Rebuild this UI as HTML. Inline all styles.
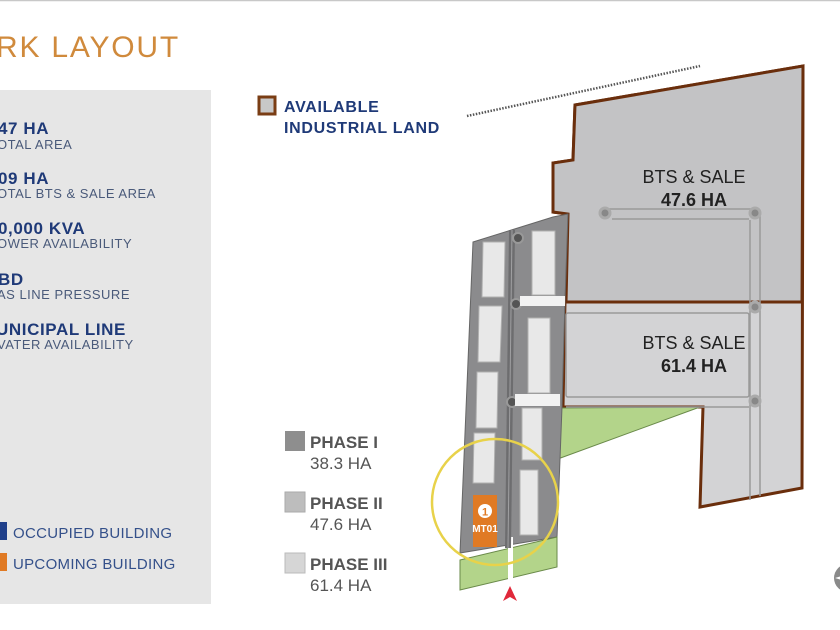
<!DOCTYPE html>
<html><head><meta charset="utf-8"><style>
html,body{margin:0;padding:0;background:#fff;}
body{width:840px;height:630px;overflow:hidden;position:relative;font-family:"Liberation Sans",sans-serif;}
svg{position:absolute;left:0;top:0;}
</style></head><body>
<svg width="840" height="630" viewBox="0 0 840 630" xmlns="http://www.w3.org/2000/svg" font-family="Liberation Sans, sans-serif">
<line x1="0" y1="0.5" x2="840" y2="0.5" stroke="#c8c8c8" stroke-width="1.5"/>
<text x="-4" y="57" font-size="30" fill="#d08a3c" letter-spacing="1.8">RK LAYOUT</text>
<rect x="0" y="90" width="211" height="514" fill="#e6e6e6"/>
<g fill="#1f3a78" font-weight="bold" font-size="17" letter-spacing="0.6">
<text x="-2" y="134">47 HA</text>
<text x="-2" y="184">09 HA</text>
<text x="-2" y="234">0,000 KVA</text>
<text x="-2" y="285">BD</text>
<text x="-4" y="335">UNICIPAL LINE</text>
</g>
<g fill="#4a5a7a" font-size="13" letter-spacing="0.5">
<text x="-3" y="149">OTAL AREA</text>
<text x="-3" y="198">OTAL BTS &amp; SALE AREA</text>
<text x="-3" y="248">OWER AVAILABILITY</text>
<text x="-3" y="299">AS LINE PRESSURE</text>
<text x="-3" y="349">VATER AVAILABILITY</text>
</g>
<rect x="0" y="522" width="7" height="18" fill="#1f3f8a"/>
<rect x="0" y="553" width="7" height="18" fill="#e07a24"/>
<text x="13" y="538" font-size="15" fill="#34508a" letter-spacing="0.3">OCCUPIED BUILDING</text>
<text x="13" y="569" font-size="15" fill="#34508a" letter-spacing="0.3">UPCOMING BUILDING</text>
<rect x="259" y="97" width="16" height="17" fill="#c8c8c8" stroke="#7a3d14" stroke-width="3"/>
<text x="284" y="112" font-size="16" font-weight="bold" fill="#1f3a78" letter-spacing="0.7">AVAILABLE</text>
<text x="284" y="133" font-size="16" font-weight="bold" fill="#1f3a78" letter-spacing="0.7">INDUSTRIAL LAND</text>
<line x1="467" y1="116" x2="700" y2="66" stroke="#555" stroke-width="2.5" stroke-dasharray="1.5 1.5"/>
<rect x="285" y="431" width="20" height="20" fill="#8e8e8e"/>
<rect x="285" y="492" width="20" height="20" fill="#bdbdbd" stroke="#aaa"/>
<rect x="285" y="553" width="20" height="20" fill="#d6d6d6" stroke="#bbb"/>
<g font-size="17" fill="#555">
<text x="310" y="448" font-weight="bold">PHASE I</text><text x="310" y="469">38.3 HA</text>
<text x="310" y="509" font-weight="bold">PHASE II</text><text x="310" y="530">47.6 HA</text>
<text x="310" y="570" font-weight="bold">PHASE III</text><text x="310" y="591">61.4 HA</text>
</g>
<polygon points="575,105 803,66 802,488 700,507 703,407 563,407 565,302 568,214 553,212 553,163 573,160" fill="#d3d3d5" stroke="#6a2e0c" stroke-width="3"/>
<polygon points="575,105 803,66 802,302 566,302 568,214 553,212 553,163 573,160" fill="#c3c3c5" stroke="#6a2e0c" stroke-width="3"/>
<polygon points="555,408 700,407 555,460" fill="#b3d48a" stroke="#6a8a4a" stroke-width="1"/>
<g fill="none" stroke="#999" stroke-width="1.5">
<line x1="605" y1="209" x2="755" y2="209"/><line x1="612" y1="219" x2="749" y2="219"/>
<line x1="750" y1="220" x2="750" y2="500"/><line x1="760" y1="216" x2="760" y2="496"/>
<rect x="566" y="313" width="183" height="84" rx="2"/>
<line x1="566" y1="407" x2="749" y2="407"/>
</g>
<g fill="#888" stroke="#aaa" stroke-width="3"><circle cx="605" cy="213" r="5"/><circle cx="755" cy="213" r="5"/><circle cx="755" cy="307" r="5"/><circle cx="755" cy="401" r="5"/></g>
<text x="694" y="183" text-anchor="middle" font-size="18" fill="#222">BTS &amp; SALE</text>
<text x="694" y="206" text-anchor="middle" font-size="18" font-weight="bold" fill="#222">47.6 HA</text>
<text x="694" y="349" text-anchor="middle" font-size="18" fill="#222">BTS &amp; SALE</text>
<text x="694" y="372" text-anchor="middle" font-size="18" font-weight="bold" fill="#222">61.4 HA</text>
<polygon points="473,242 553,217 568,214 565,300 562,407 557,537 460,553" fill="#8b8b8d" stroke="#666" stroke-width="1"/>
<polygon points="460,560 557,537 557,567 460,590" fill="#b3d48a" stroke="#6a8a4a"/>
<rect x="508" y="537" width="5" height="55" fill="#fff"/>
<line x1="512" y1="230" x2="508" y2="548" stroke="#6d6d6f" stroke-width="6"/>
<line x1="512" y1="230" x2="508" y2="548" stroke="#a0a0a2" stroke-width="1"/>
<g fill="#555" stroke="#999" stroke-width="2"><circle cx="518" cy="238" r="5"/><circle cx="516" cy="304" r="5"/><circle cx="512" cy="402" r="5"/></g>
<rect x="520" y="296" width="45" height="10" fill="#f2f2f2"/>
<rect x="515" y="394" width="45" height="12" fill="#f2f2f2"/>
<g fill="#e8e8e8" stroke="#b0b0b0" stroke-width="1">
<polygon points="483,242 505,242 504,297 482,297"/>
<polygon points="479,306 502,306 500,362 478,362"/>
<polygon points="477,372 498,372 497,428 476,428"/>
<polygon points="474,433 495,433 494,483 473,483"/>
<rect x="532" y="231" width="23" height="64"/>
<rect x="528" y="318" width="22" height="75"/>
<rect x="522" y="408" width="20" height="52"/>
<rect x="520" y="470" width="18" height="65"/>
</g>
<rect x="473" y="495" width="24" height="52" fill="#e07a24"/>
<circle cx="485" cy="511" r="7" fill="#fff"/>
<text x="485" y="515.5" text-anchor="middle" font-size="11" font-weight="bold" fill="#e07a24">1</text>
<text x="485" y="532" text-anchor="middle" font-size="10" font-weight="bold" fill="#fff">MT01</text>
<circle cx="495" cy="502" r="63" fill="none" stroke="#e8d24a" stroke-width="2.5"/>
<polygon points="510,586 503,601 510,597 517,601" fill="#e0283a"/>
<circle cx="848" cy="578" r="14" fill="#8a8a8a"/>
<polygon points="835,578 848,574 848,582" fill="#fff"/>
</svg>
</body></html>
